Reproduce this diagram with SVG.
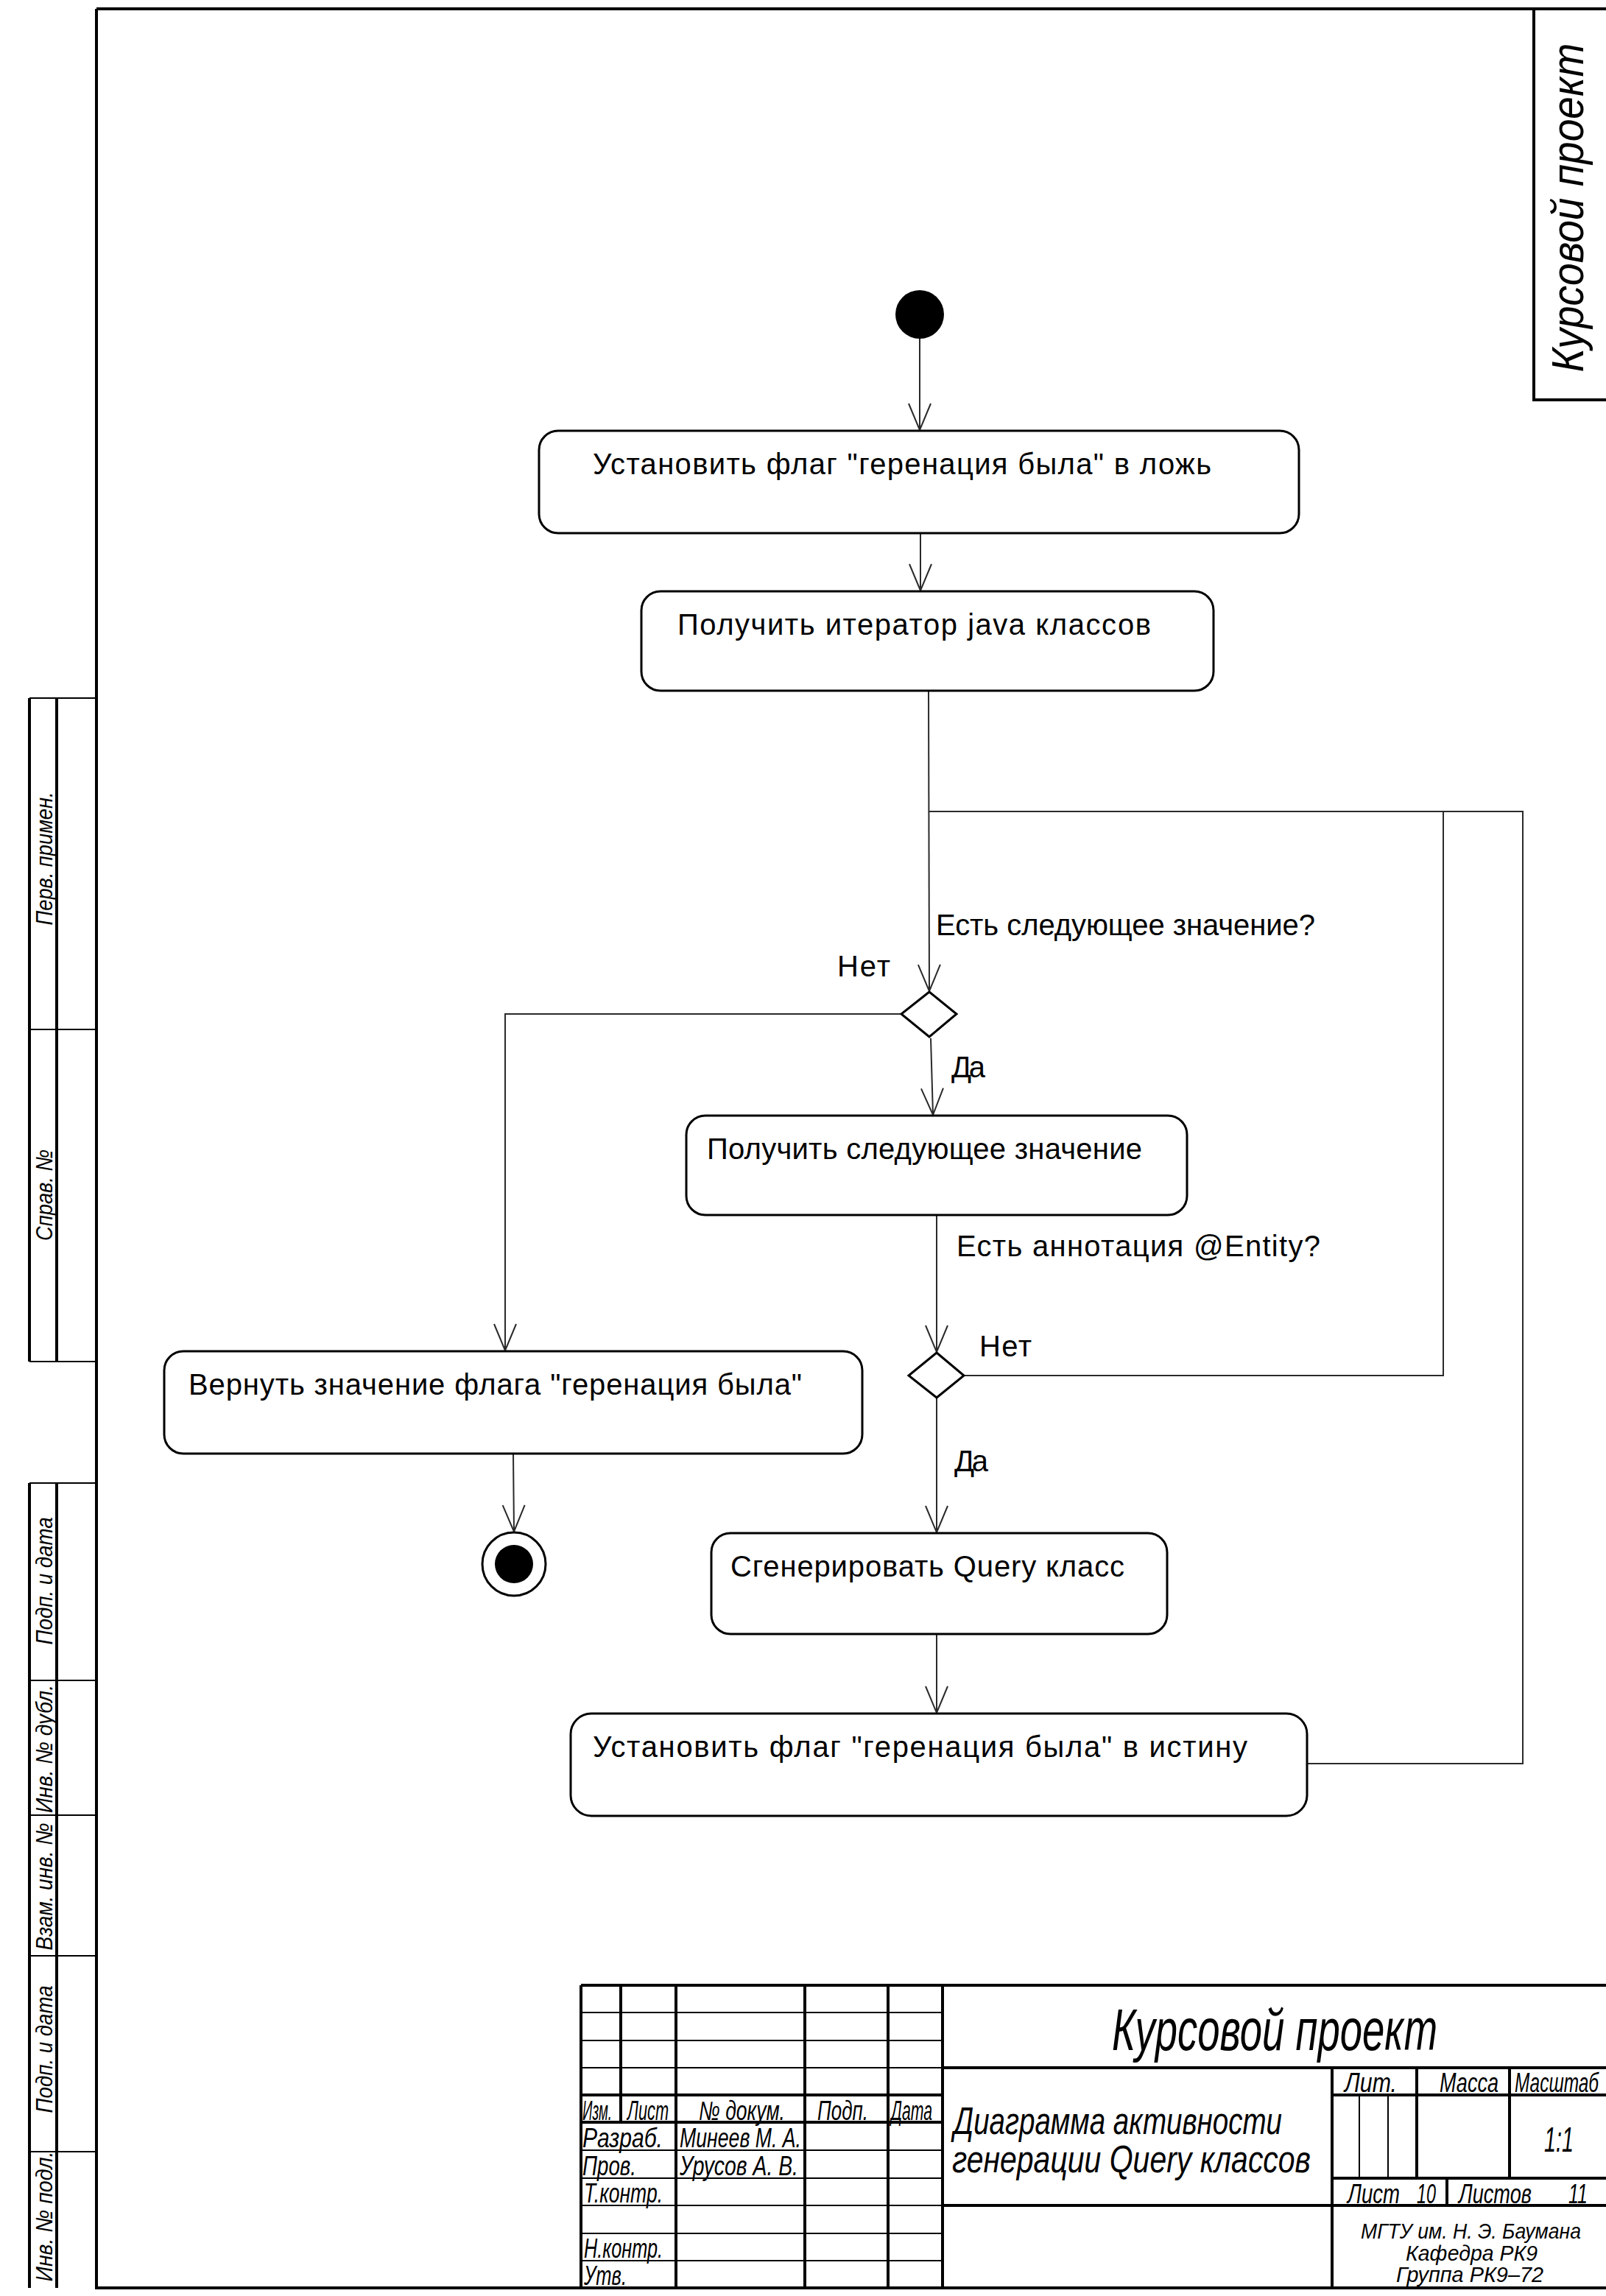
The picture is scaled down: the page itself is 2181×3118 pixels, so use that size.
<svg xmlns="http://www.w3.org/2000/svg" width="2181" height="3118" viewBox="0 0 2181 3118">
<style>
.thk{stroke:#000;stroke-width:4;fill:none}
.thn{stroke:#000;stroke-width:2;fill:none}
.box{fill:#fff;stroke:#000;stroke-width:3}
.con{stroke:#2a2a2a;stroke-width:2;fill:none}
.t{font-family:"Liberation Sans","DejaVu Sans",sans-serif;font-size:40px;fill:#000}
.i{font-family:"Liberation Sans","DejaVu Sans",sans-serif;font-style:italic;fill:#000}
</style>
<defs>
<marker id="arr" markerUnits="userSpaceOnUse" viewBox="0 0 40 34" markerWidth="40" markerHeight="34" refX="38" refY="17" orient="auto">
<path d="M2 2 L38 17 L2 32" fill="none" stroke="#2a2a2a" stroke-width="2"/>
</marker>
</defs>
<rect width="2181" height="3118" fill="#fff"/>

<g id="frame">
<path class="thk" d="M131 12 V3107 H2190 M131 12 H2190"/>
<path class="thk" d="M2083 12 V543 H2190"/>
<text class="i" font-size="62" text-anchor="middle" transform="rotate(-90 2150 282)" x="2150" y="282" textLength="447" lengthAdjust="spacingAndGlyphs">Курсовой проект</text>
</g>

<g id="left-strips">
<path class="thk" d="M40 948 V1849 M77 948 V1849"/>
<path class="thn" d="M40 948 H131 M40 1398 H131 M40 1849 H131"/>
<path class="thk" d="M40 2014 V3107 M77 2014 V3107"/>
<path class="thn" d="M40 2014 H131 M40 2282 H131 M40 2465 H131 M40 2656 H131 M40 2922 H131"/>
<g class="i" font-size="32" text-anchor="middle">
<text x="71" y="1166" transform="rotate(-90 71 1166)" textLength="181" lengthAdjust="spacingAndGlyphs">Перв. примен.</text>
<text x="71" y="1623" transform="rotate(-90 71 1623)" textLength="124" lengthAdjust="spacingAndGlyphs">Справ. №</text>
<text x="71" y="2147" transform="rotate(-90 71 2147)" textLength="173" lengthAdjust="spacingAndGlyphs">Подп. и дата</text>
<text x="71" y="2375" transform="rotate(-90 71 2375)" textLength="174" lengthAdjust="spacingAndGlyphs">Инв. № дубл.</text>
<text x="71" y="2562" transform="rotate(-90 71 2562)" textLength="173" lengthAdjust="spacingAndGlyphs">Взам. инв. №</text>
<text x="71" y="2783" transform="rotate(-90 71 2783)" textLength="173" lengthAdjust="spacingAndGlyphs">Подп. и дата</text>
<text x="71" y="3010" transform="rotate(-90 71 3010)" textLength="177" lengthAdjust="spacingAndGlyphs">Инв. № подл.</text>
</g>
</g>

<g id="title-block">
<path class="thk" d="M789 2696 H2190 M789 2696 V3107 M843 2696 V2882 M918 2696 V3107 M1093 2696 V3107 M1206 2696 V3107 M1280 2696 V3107"/>
<path class="thk" d="M789 2845 H1280 M789 2882 H1280"/>
<path class="thn" d="M789 2733 H1280 M789 2771 H1280 M789 2808 H1280 M789 2920 H1280 M789 2958 H1280 M789 2995 H1280 M789 3033 H1280 M789 3070 H1280"/>
<path class="thk" d="M1280 2808 H2190 M1809 2808 V3107 M1809 2845 H2190 M1924 2808 V2958 M2050 2808 V2958 M1809 2958 H2190 M1965 2958 V2995 M1280 2995 H2190"/>
<path class="thn" d="M1846 2845 V2958 M1885 2845 V2958"/>
<g class="i" font-size="36">
<text x="791" y="2879" textLength="40" lengthAdjust="spacingAndGlyphs">Изм.</text>
<text x="852" y="2879" textLength="56" lengthAdjust="spacingAndGlyphs">Лист</text>
<text x="949" y="2879" textLength="117" lengthAdjust="spacingAndGlyphs">№ докум.</text>
<text x="1110" y="2879" textLength="69" lengthAdjust="spacingAndGlyphs">Подп.</text>
<text x="1210" y="2879" textLength="56" lengthAdjust="spacingAndGlyphs">Дата</text>
<text x="791" y="2916" textLength="109" lengthAdjust="spacingAndGlyphs">Разраб.</text>
<text x="923" y="2916" textLength="165" lengthAdjust="spacingAndGlyphs">Минеев М. А.</text>
<text x="791" y="2954" textLength="73" lengthAdjust="spacingAndGlyphs">Пров.</text>
<text x="923" y="2954" textLength="161" lengthAdjust="spacingAndGlyphs">Урусов А. В.</text>
<text x="793" y="2991" textLength="107" lengthAdjust="spacingAndGlyphs">Т.контр.</text>
<text x="793" y="3066" textLength="107" lengthAdjust="spacingAndGlyphs">Н.контр.</text>
<text x="793" y="3103" textLength="58" lengthAdjust="spacingAndGlyphs">Утв.</text>
<text x="1826" y="2841" textLength="71" lengthAdjust="spacingAndGlyphs">Лит.</text>
<text x="1955" y="2841" textLength="80" lengthAdjust="spacingAndGlyphs">Масса</text>
<text x="2057" y="2841" textLength="114" lengthAdjust="spacingAndGlyphs">Масштаб</text>
<text x="1830" y="2992" textLength="71" lengthAdjust="spacingAndGlyphs">Лист</text>
<text x="1924" y="2992" textLength="26" lengthAdjust="spacingAndGlyphs">10</text>
<text x="1981" y="2992" textLength="99" lengthAdjust="spacingAndGlyphs">Листов</text>
<text x="2130" y="2992" textLength="26" lengthAdjust="spacingAndGlyphs">11</text>
</g>
<g class="i" font-size="29">
<text x="1848" y="3040" textLength="299" lengthAdjust="spacingAndGlyphs">МГТУ им. Н. Э. Баумана</text>
<text x="1909" y="3070" textLength="179" lengthAdjust="spacingAndGlyphs">Кафедра РК9</text>
<text x="1896" y="3099" textLength="200" lengthAdjust="spacingAndGlyphs">Группа РК9–72</text>
</g>
<text class="i" font-size="80" x="1510" y="2784" textLength="442" lengthAdjust="spacingAndGlyphs">Курсовой проект</text>
<text class="i" font-size="52" x="1295" y="2898" textLength="446" lengthAdjust="spacingAndGlyphs">Диаграмма активности</text>
<text class="i" font-size="52" x="1293" y="2950" textLength="487" lengthAdjust="spacingAndGlyphs">генерации Query классов</text>
<text class="i" font-size="48" x="2097" y="2922" textLength="40" lengthAdjust="spacingAndGlyphs">1:1</text>
</g>

<g id="connectors">
<line class="con" x1="1249" y1="460" x2="1249" y2="584" marker-end="url(#arr)"/>
<line class="con" x1="1250" y1="724" x2="1250" y2="802" marker-end="url(#arr)"/>
<line class="con" x1="1261" y1="938" x2="1262" y2="1346" marker-end="url(#arr)"/>
<polyline class="con" points="1261,1102 2068,1102 2068,2395 1775,2395"/>
<polyline class="con" points="1960,1102 1960,1868 1310,1868"/>
<polyline class="con" points="1224,1377 686,1377 686,1834" marker-end="url(#arr)"/>
<line class="con" x1="1264" y1="1410" x2="1267" y2="1514" marker-end="url(#arr)"/>
<line class="con" x1="1272" y1="1650" x2="1272" y2="1836" marker-end="url(#arr)"/>
<line class="con" x1="1272" y1="1898" x2="1272" y2="2081" marker-end="url(#arr)"/>
<line class="con" x1="1272" y1="2219" x2="1272" y2="2326" marker-end="url(#arr)"/>
<line class="con" x1="697" y1="1974" x2="698" y2="2080" marker-end="url(#arr)"/>
<text class="t" x="1271" y="1270" textLength="515" lengthAdjust="spacing">Есть следующее значение?</text>
<text class="t" x="1137" y="1326" textLength="72" lengthAdjust="spacing">Нет</text>
<text class="t" x="1292" y="1463" textLength="46" lengthAdjust="spacing">Да</text>
<text class="t" x="1299" y="1706" textLength="494" lengthAdjust="spacing">Есть аннотация @Entity?</text>
<text class="t" x="1330" y="1842" textLength="71" lengthAdjust="spacing">Нет</text>
<text class="t" x="1296" y="1998" textLength="46" lengthAdjust="spacing">Да</text>
</g>

<g id="start"><circle cx="1249" cy="427" r="33" fill="#000"/></g>

<g id="set-false">
<rect class="box" x="732" y="585" width="1032" height="139" rx="26"/>
<text class="t" x="805" y="644" textLength="840" lengthAdjust="spacing">Установить флаг "геренация была" в ложь</text>
</g>
<g id="get-iterator">
<rect class="box" x="871" y="803" width="777" height="135" rx="26"/>
<text class="t" x="920" y="862" textLength="643" lengthAdjust="spacing">Получить итератор java классов</text>
</g>
<g id="decision-has-next"><polygon points="1262,1347 1299,1377 1262,1408 1224,1377" fill="#fff" stroke="#000" stroke-width="3"/></g>
<g id="get-next">
<rect class="box" x="932" y="1515" width="680" height="135" rx="26"/>
<text class="t" x="960" y="1574" textLength="591" lengthAdjust="spacing">Получить следующее значение</text>
</g>
<g id="decision-entity"><polygon points="1272,1837 1309,1868 1272,1898 1234,1868" fill="#fff" stroke="#000" stroke-width="3"/></g>
<g id="generate">
<rect class="box" x="966" y="2082" width="619" height="137" rx="26"/>
<text class="t" x="992" y="2141" textLength="535" lengthAdjust="spacing">Сгенерировать Query класс</text>
</g>
<g id="set-true">
<rect class="box" x="775" y="2327" width="1000" height="139" rx="28"/>
<text class="t" x="805" y="2386" textLength="889" lengthAdjust="spacing">Установить флаг "геренация была" в истину</text>
</g>
<g id="return-flag">
<rect class="box" x="223" y="1835" width="948" height="139" rx="26"/>
<text class="t" x="256" y="1894" textLength="833" lengthAdjust="spacing">Вернуть значение флага "геренация была"</text>
</g>
<g id="end">
<circle cx="698" cy="2124" r="43" fill="#fff" stroke="#000" stroke-width="3"/>
<circle cx="698" cy="2124" r="26" fill="#000"/>
</g>
</svg>
